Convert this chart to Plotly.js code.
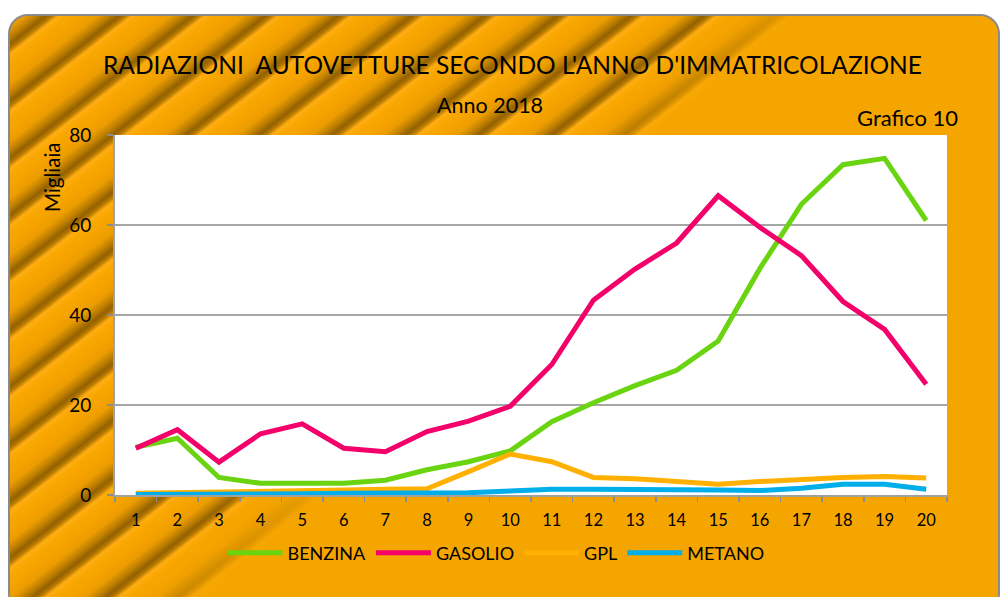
<!DOCTYPE html>
<html>
<head>
<meta charset="utf-8">
<script src="https://cdn.plot.ly/plotly-3.0.1.min.js"></script>
<style>
html, body { margin:0; padding:0; background:#ffffff; width:1003px; height:597px; overflow:hidden; }
#frame {
  position:absolute; left:8px; top:14px; width:992px; height:600px;
  border:2px solid #8a8a8a; border-radius:20px; box-sizing:border-box;
  background:
    linear-gradient(135deg, rgba(245,165,0,0) 44%, rgba(245,165,0,1) 50%),
    repeating-linear-gradient(142deg,
      #f5a300 0px, #eb9c00 9px, #c08000 16px, #936100 22px, #b67800 26px, #ffae12 30px, #f8a600 36px, #f5a300 45px);
}
#chart { position:absolute; left:0; top:0; width:1003px; height:597px; }
</style>
</head>
<body>
<div id="frame"></div>
<div id="chart"></div>
<script>
const anni = ["1","2","3","4","5","6","7","8","9","10","11","12","13","14","15","16","17","18","19","20"];
const benzina = [10.6, 12.6, 3.9, 2.6, 2.6, 2.6, 3.3, 5.6, 7.4, 9.8, 16.3, 20.5, 24.3, 27.7, 34.2, 50.3, 64.6, 73.4, 74.8, 61.0];
const gasolio = [10.4, 14.5, 7.3, 13.6, 15.8, 10.4, 9.6, 14.1, 16.4, 19.7, 29.0, 43.3, 50.2, 56.0, 66.5, 59.5, 53.2, 43.0, 36.8, 24.6];
const gpl     = [0.4, 0.5, 0.6, 0.8, 0.9, 1.1, 1.3, 1.4, 5.2, 9.1, 7.4, 3.9, 3.6, 3.0, 2.4, 3.0, 3.5, 3.9, 4.1, 3.8];
const metano  = [0.1, 0.1, 0.1, 0.2, 0.3, 0.4, 0.4, 0.4, 0.5, 0.9, 1.3, 1.3, 1.3, 1.3, 1.1, 1.0, 1.5, 2.4, 2.4, 1.3];
const serie = ["BENZINA", "GASOLIO", "GPL", "METANO"];
const colori = ["#69d40f", "#f4006a", "#ffb000", "#00aeea"];
const valori = [benzina, gasolio, gpl, metano];

const FONT = "Lato, 'Open Sans', sans-serif";

const traces = valori.map((v, i) => ({
  x: anni, y: v, type: "scatter", mode: "lines", name: serie[i],
  line: {color: colori[i], width: 5}
}));

const layout = {
  width: 1003, height: 597,
  paper_bgcolor: "rgba(0,0,0,0)", plot_bgcolor: "#ffffff",
  margin: {l: 115, r: 56, t: 135, b: 102, pad: 0},
  font: {family: FONT, color: "#000000", size: 15},
  showlegend: true,
  legend: {orientation: "h", x: 0.458, xanchor: "center", y: -0.11, yanchor: "top",
           font: {family: FONT, size: 18, color: "#000"}, bgcolor: "rgba(0,0,0,0)", itemwidth: 55},
  xaxis: {type: "category", range: [-0.5, 19.5], tickson: "boundaries", ticks: "outside", ticklen: 5,
          tickcolor: "#8c8c8c", tickwidth: 1.5, showline: true, linecolor: "#a0a0a0", linewidth: 2,
          showgrid: false, zeroline: false, ticklabelstandoff: 9,
          tickfont: {family: FONT, size: 16.5, color: "#000"}, fixedrange: true},
  yaxis: {range: [0, 80], dtick: 20, tick0: 0, ticks: "outside", ticklen: 6, tickcolor: "#8c8c8c", tickwidth: 1.5,
          showline: true, linecolor: "#a0a0a0", linewidth: 2, showgrid: true, gridcolor: "#a6a6a6", gridwidth: 1.5,
          zeroline: false, ticklabelstandoff: 12, tickfont: {family: FONT, size: 19, color: "#000"}, fixedrange: true},
  annotations: [
    {text: "RADIAZIONI\u00a0 AUTOVETTURE SECONDO L'ANNO D'IMMATRICOLAZIONE", showarrow: false, font: {family: FONT, size: 24.5, color: "#000"}},
    {text: "Anno 2018", showarrow: false, font: {family: FONT, size: 21.5, color: "#000"}},
    {text: "Grafico 10", showarrow: false, font: {family: FONT, size: 22, color: "#000"}},
    {text: "Migliaia", showarrow: false, textangle: -90, font: {family: FONT, size: 20.5, color: "#000"}}
  ]
};

// convert pixel positions to paper coords for annotations
const pw = 1003 - 115 - 56, ph = 597 - 135 - 102;
function px(x) { return (x - 115) / pw; }
function py(y) { return (597 - 102 - y) / ph; }
const pos = [[512, 64, "center"], [490, 105, "center"], [960, 118, "right"], [52, 177, "center"]];
layout.annotations.forEach((a, i) => {
  a.xref = "paper"; a.yref = "paper";
  a.x = px(pos[i][0]); a.y = py(pos[i][1]);
  a.xanchor = pos[i][2]; a.yanchor = "middle";
});

Plotly.newPlot("chart", traces, layout, {staticPlot: true, displayModeBar: false});
</script>
</body>
</html>
